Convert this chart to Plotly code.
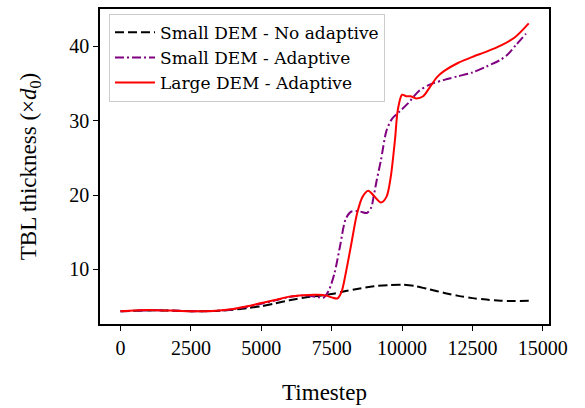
import plotly.graph_objects as go

# Boundary-layer thickness histories (in units of d0) versus timestep
steps_small_no = [0, 500, 1000, 1500, 2000, 2500, 3000, 3500, 4000, 4500, 5000, 5500,
                  6000, 6500, 7000, 7500, 8000, 8500, 9000, 9500, 10000, 10500, 11000,
                  11500, 12000, 12500, 13000, 13500, 14000, 14500]
tbl_small_no = [4.4, 4.45, 4.5, 4.5, 4.45, 4.4, 4.4, 4.45, 4.6, 4.8, 5.05, 5.45,
                5.85, 6.2, 6.45, 6.7, 7.1, 7.45, 7.75, 7.9, 7.95, 7.75, 7.3,
                6.85, 6.45, 6.15, 5.95, 5.8, 5.75, 5.78]

steps_small_ad = [0, 500, 1000, 1500, 2000, 2500, 3000, 3500, 4000, 4500, 5000, 5500,
                  6000, 6500, 7000, 7200, 7400, 7600, 7800, 8000, 8200, 8500, 8750,
                  8900, 9000, 9100, 9250, 9450, 9650, 9900, 10200, 10600, 11000, 11500,
                  12000, 12500, 13000, 13500, 13750, 14050, 14400]
tbl_small_ad = [4.4, 4.45, 4.5, 4.5, 4.45, 4.4, 4.4, 4.45, 4.65, 5.0, 5.4, 5.85,
                6.3, 6.5, 6.3, 6.2, 7.2, 9.5, 13.2, 16.8, 17.8, 17.8, 17.6,
                18.3, 20.0, 22.0, 24.7, 28.7, 30.3, 31.2, 32.3, 34.0, 34.9, 35.5,
                36.0, 36.5, 37.3, 38.2, 38.9, 40.2, 41.7]

steps_large_ad = [0, 500, 1000, 1500, 2000, 2500, 3000, 3500, 4000, 4500, 5000, 5500,
                  6000, 6500, 7000, 7300, 7500, 7700, 7850, 8000, 8200, 8400, 8600,
                  8800, 9000, 9250, 9450, 9600, 9750, 9850, 10000, 10150, 10300, 10500,
                  10750, 11000, 11250, 11500, 12000, 12500, 13000, 13500, 14000, 14500]
tbl_large_ad = [4.4, 4.5, 4.55, 4.5, 4.45, 4.4, 4.4, 4.5, 4.7, 5.05, 5.5, 5.9,
                6.35, 6.55, 6.6, 6.5, 6.25, 6.1, 7.0, 9.5, 13.5, 17.5, 19.8,
                20.6, 19.9, 19.0, 19.8, 22.5, 27.5, 31.5, 33.5, 33.3, 33.3, 33.0,
                33.3, 34.6, 35.9, 36.7, 37.8, 38.6, 39.3, 40.1, 41.2, 43.1]

x_ticks = [0, 2500, 5000, 7500, 10000, 12500, 15000]
y_ticks = [10, 20, 30, 40]

FONT = "Liberation Serif"
LEGEND_FONT = "DejaVu Serif"

fig = go.Figure()
fig.add_trace(go.Scatter(
    x=steps_small_no, y=tbl_small_no, mode="lines", name="Small DEM - No adaptive",
    line=dict(color="black", width=2, dash="9px,4px", shape="spline", smoothing=0.8)))
fig.add_trace(go.Scatter(
    x=steps_small_ad, y=tbl_small_ad, mode="lines", name="Small DEM - Adaptive",
    line=dict(color="#800080", width=2, dash="9px,3px,2px,3px", shape="spline", smoothing=0.8)))
fig.add_trace(go.Scatter(
    x=steps_large_ad, y=tbl_large_ad, mode="lines", name="Large DEM - Adaptive",
    line=dict(color="red", width=2, shape="spline", smoothing=0.8)))

axis_common = dict(
    showgrid=False, zeroline=False, showline=True, linecolor="black", linewidth=1.5,
    mirror=True, ticks="outside", ticklen=5, tickwidth=1.2, tickcolor="black",
    tickfont=dict(family=FONT, size=20, color="black"),
)

fig.update_layout(
    width=585, height=408,
    margin=dict(l=100, r=36, t=7, b=83),
    paper_bgcolor="white", plot_bgcolor="white",
    font=dict(family=FONT, size=20, color="black"),
    showlegend=True,
    legend=dict(
        x=0.02, y=0.985, xanchor="left", yanchor="top",
        bgcolor="rgba(255,255,255,0.8)", bordercolor="#cccccc", borderwidth=1,
        font=dict(family=LEGEND_FONT, size=17, color="black"),
        tracegroupgap=0, itemwidth=40,
    ),
    xaxis=dict(axis_common, range=[-730, 15220], tickvals=x_ticks,
               ticktext=[str(v) for v in x_ticks],
               title=dict(text="Timestep", font=dict(family=FONT, size=23), standoff=26)),
    yaxis=dict(axis_common, range=[2.67, 45.03], tickvals=y_ticks,
               ticktext=[str(v) for v in y_ticks],
               title=dict(text="TBL thickness (×<i>d</i><sub>0</sub>)",
                          font=dict(family=FONT, size=23), standoff=26)),
)

fig.write_html("out.html")
